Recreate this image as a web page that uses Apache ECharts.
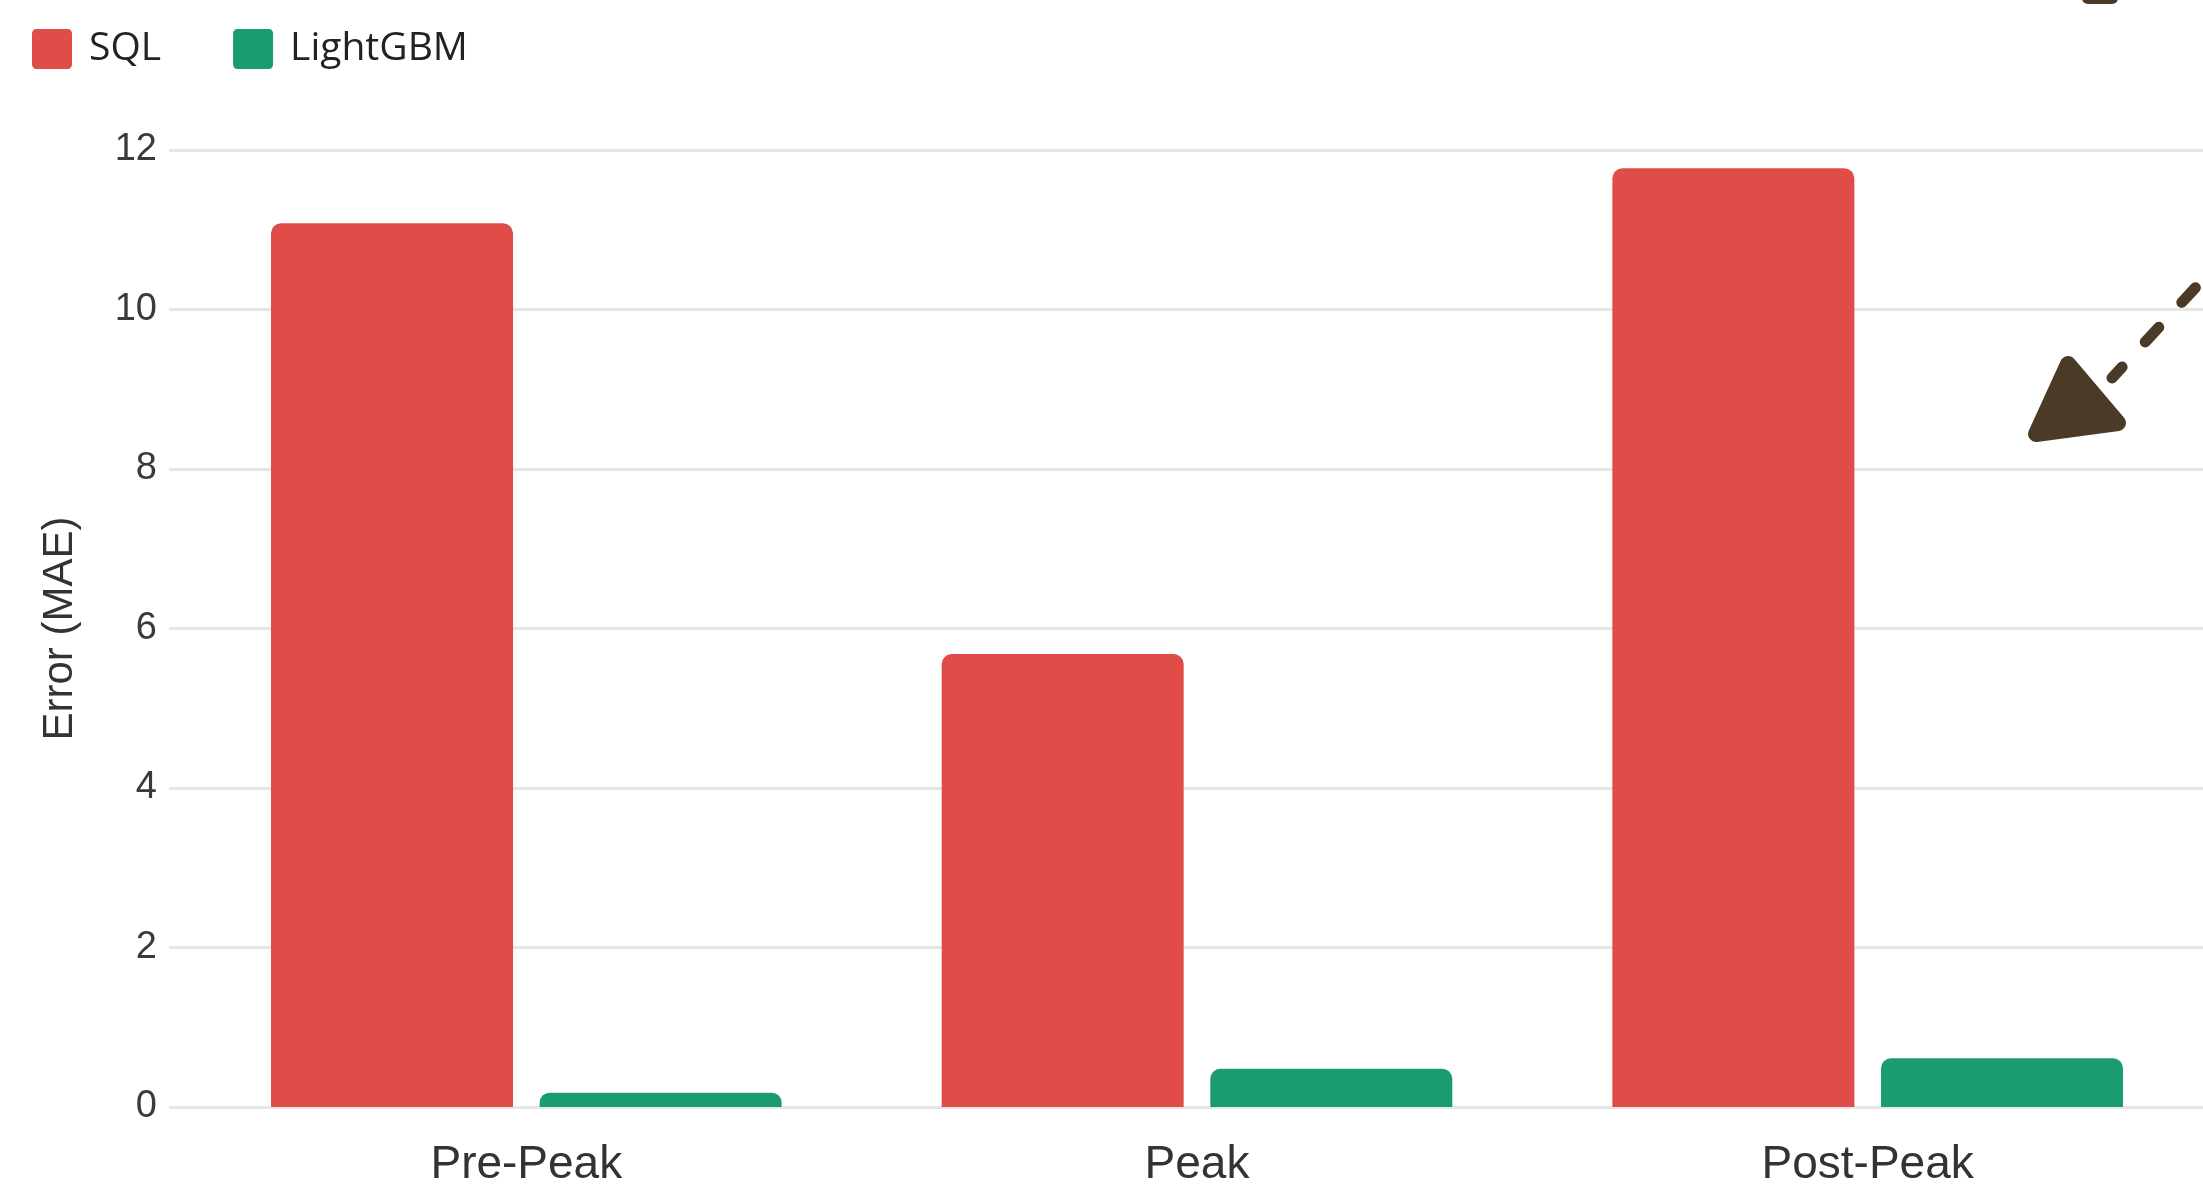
<!DOCTYPE html>
<html>
<head>
<meta charset="utf-8">
<script src="https://cdn.jsdelivr.net/npm/echarts@6/dist/echarts.min.js"></script>
<style>
  html, body { margin: 0; padding: 0; background: #fff; }
  #chart { width: 2203px; height: 1197px; }
</style>
</head>
<body>
<div id="chart"></div>
<script>
// chart data
const phases = ["Pre-Peak", "Peak", "Post-Peak"];
const sqlErr = [11.08, 5.68, 11.77];
const lgbmErr = [0.18, 0.48, 0.61];
const yTicks = { min: 0, max: 12, interval: 2 };

const ARROW = "#4a3a26";
const GRID = "#e6e6e6";
// square legend swatch with small rounded corners
const SWATCH = "path://M5,0H37Q42,0 42,5V37Q42,42 37,42H5Q0,42 0,37V5Q0,0 5,0Z";

let myChart = echarts.init(document.getElementById("chart"));

let option = {
  backgroundColor: "#fff",
  animation: false,
  legend: {
    left: 27,
    top: 24,
    itemWidth: 40,
    itemHeight: 40,
    itemGap: 72,
    icon: SWATCH,
    selectedMode: false,
    textStyle: {
      fontFamily: "Open Sans",
      fontSize: 39,
      color: "#222",
      padding: [0, 0, 0, 12]
    },
    data: ["SQL", "LightGBM"]
  },
  grid: {
    left: 191,
    right: -3,
    top: 150,
    bottom: 90,
    containLabel: false
  },
  xAxis: {
    type: "category",
    data: phases,
    axisLine: { show: true, lineStyle: { color: GRID, width: 3 } },
    axisTick: { show: false },
    splitLine: { show: false },
    axisLabel: {
      margin: 35,
      fontFamily: "Liberation Sans",
      fontSize: 46,
      color: "#333"
    }
  },
  yAxis: {
    type: "value",
    min: yTicks.min,
    max: yTicks.max,
    interval: yTicks.interval,
    name: "Error (MAE)",
    nameLocation: "middle",
    nameGap: 110,
    nameTextStyle: {
      fontFamily: "Liberation Sans",
      fontSize: 42,
      color: "#333"
    },
    axisLine: { show: false },
    axisTick: { show: true, length: 22, lineStyle: { color: GRID, width: 3 } },
    splitLine: { lineStyle: { color: GRID, width: 3 } },
    axisLabel: {
      margin: 34,
      fontFamily: "Liberation Sans",
      fontSize: 38,
      color: "#3a3a3a"
    }
  },
  series: [
    {
      name: "SQL",
      type: "bar",
      data: sqlErr,
      barWidth: 242,
      barGap: "11%",
      itemStyle: { color: "#e04c47", borderRadius: [10, 10, 0, 0] }
    },
    {
      name: "LightGBM",
      type: "bar",
      data: lgbmErr,
      barWidth: 242,
      itemStyle: { color: "#1b9b72", borderRadius: [10, 10, 0, 0] }
    }
  ],
  // hand-drawn arrow overlay in the top right corner
  graphic: [
    {
      type: "line",
      z: 100,
      shape: { x1: 2232, y1: 248, x2: 2112, y2: 378 },
      style: { stroke: ARROW, lineWidth: 11, lineCap: "round", lineDash: [20, 34], lineDashOffset: 0 }
    },
    {
      type: "polygon",
      z: 100,
      shape: { points: [[2068, 364], [2036, 434], [2118, 423]] },
      style: { fill: ARROW, stroke: ARROW, lineWidth: 16, lineJoin: "round" }
    },
    {
      type: "rect",
      z: 100,
      shape: { x: 2082, y: -10, width: 36, height: 14, r: 6 },
      style: { fill: ARROW }
    }
  ]
};

myChart.setOption(option);
window.addEventListener("resize", function() {
  myChart.resize();
});
</script>
</body>
</html>
